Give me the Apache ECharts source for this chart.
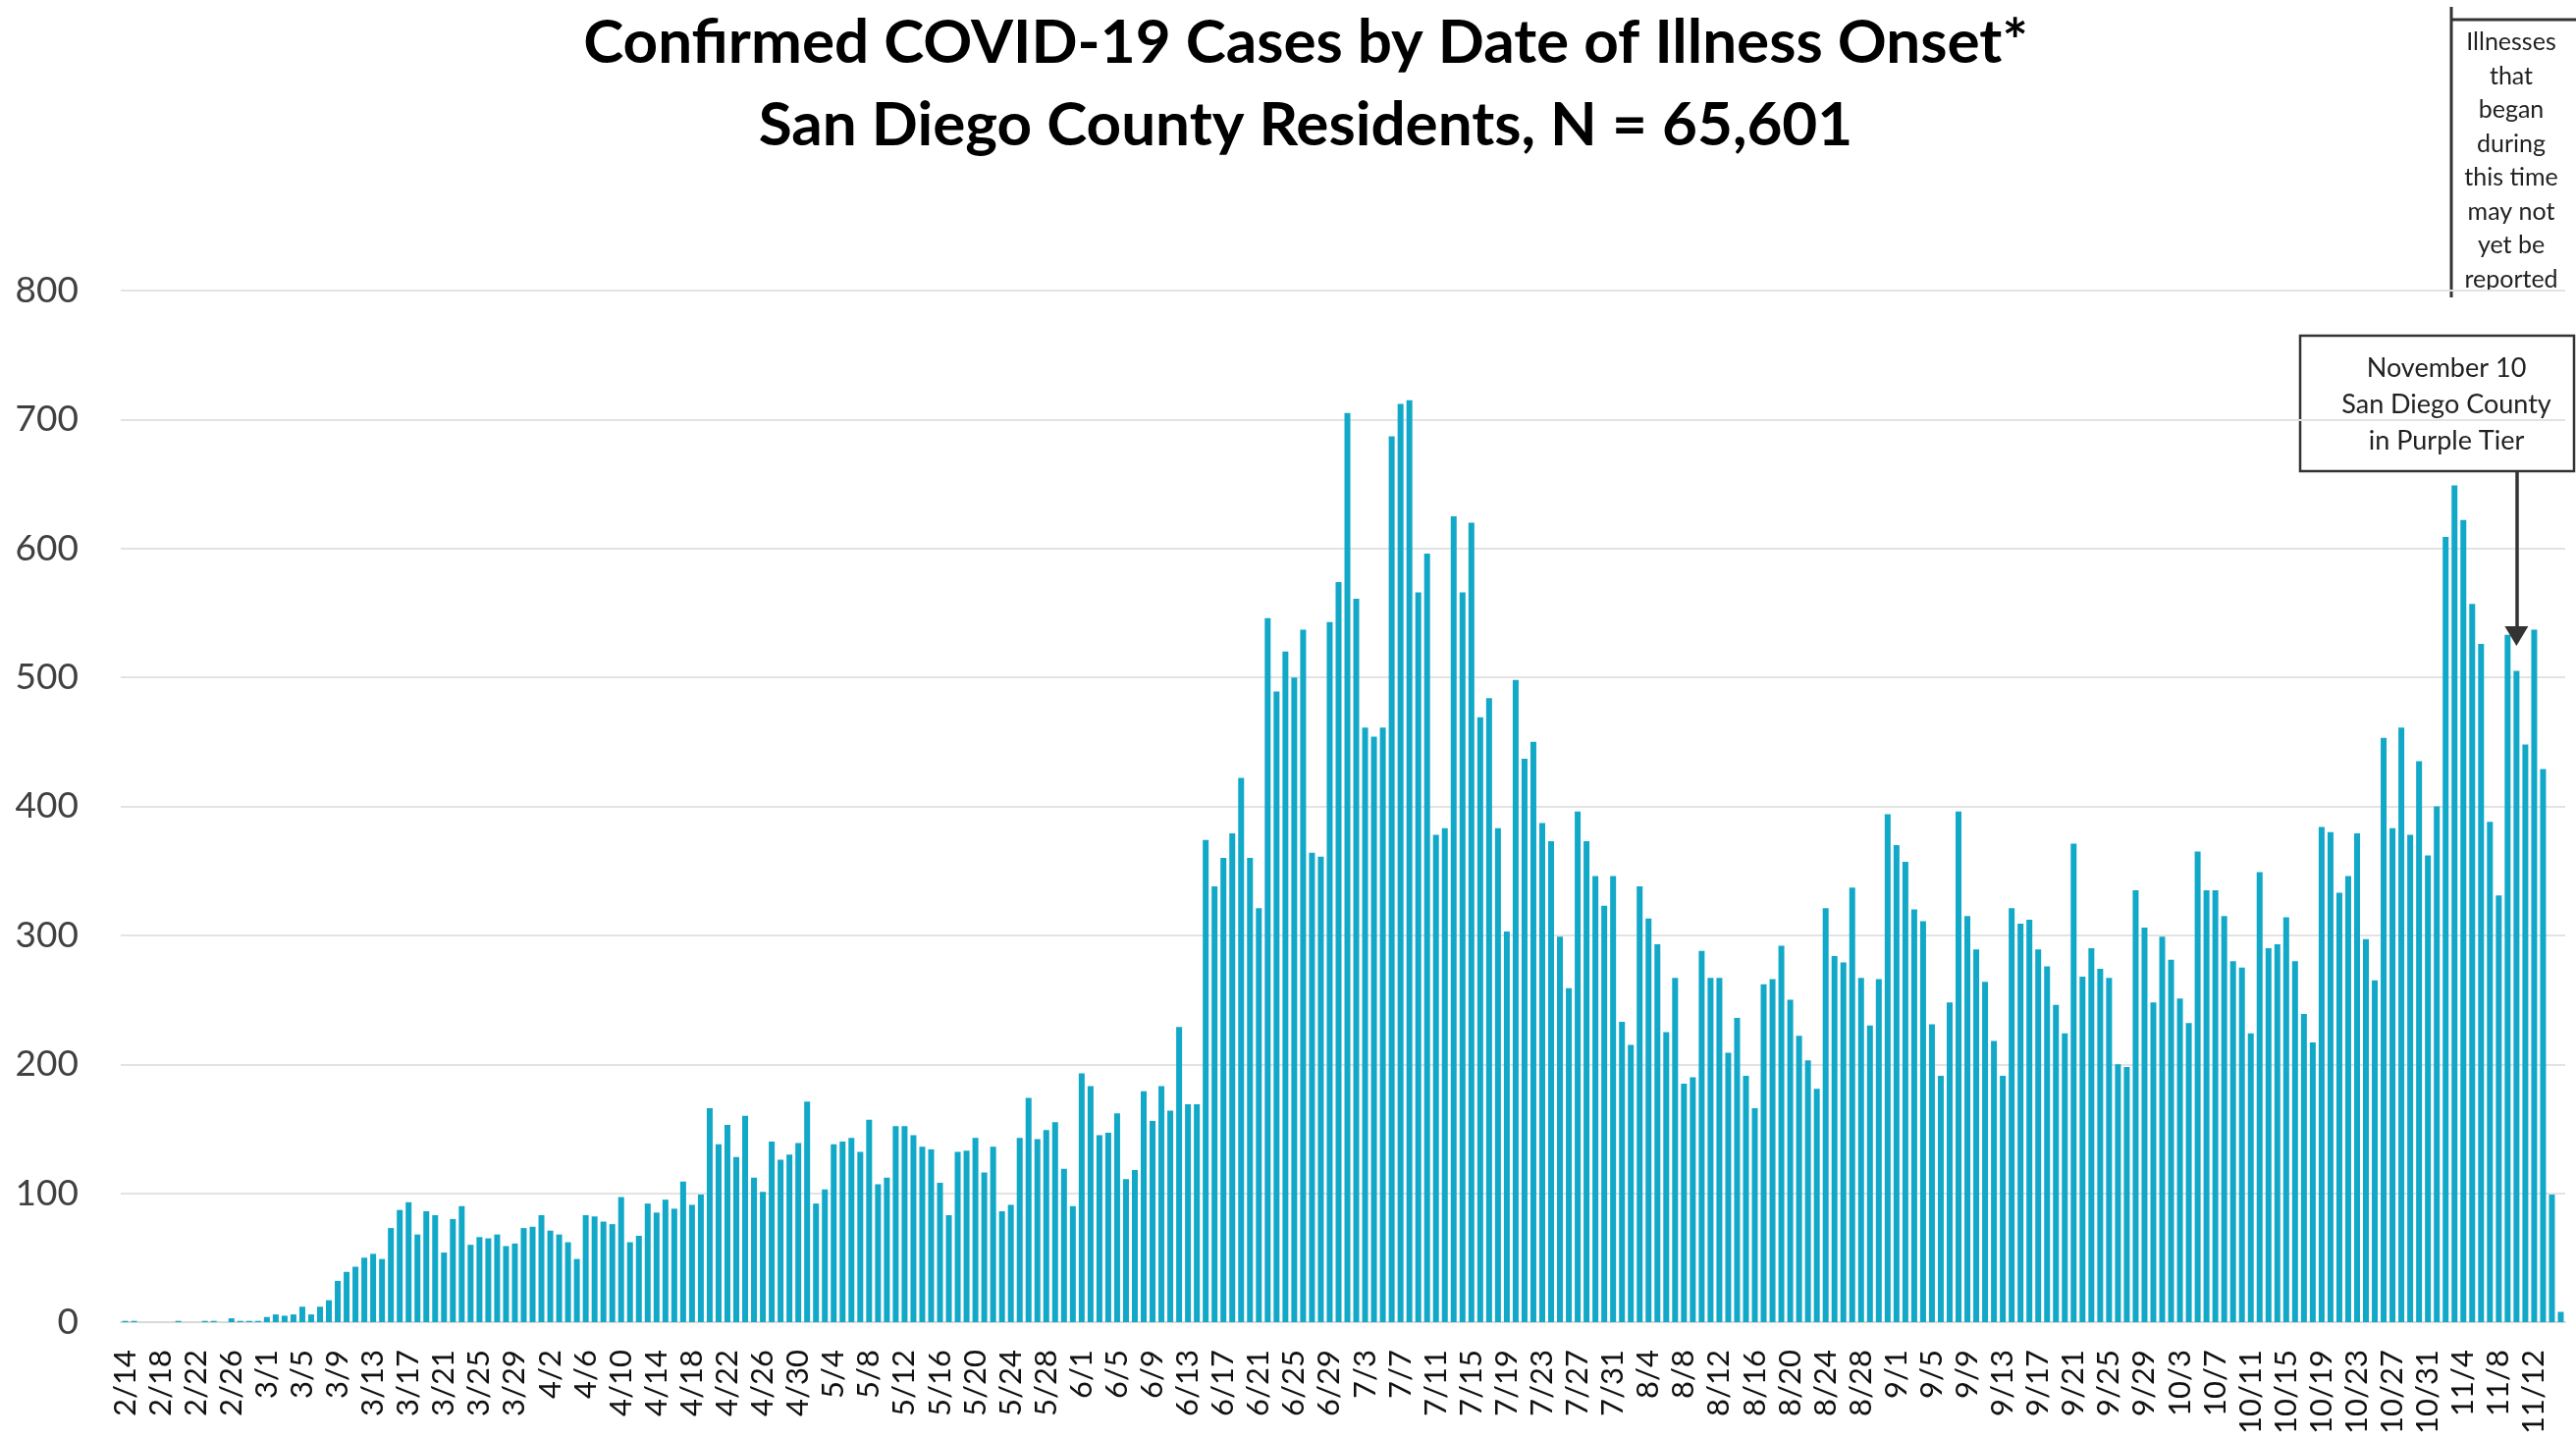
<!DOCTYPE html>
<html>
<head>
<meta charset="utf-8">
<script src="https://cdn.jsdelivr.net/npm/echarts@6/dist/echarts.min.js"></script>
<style>
  html, body { margin: 0; padding: 0; background: #fff; }
  #container { width: 2624px; height: 1465px; }
</style>
</head>
<body>
<div id="container"></div>
<script>
// dates 2/14 .. 11/15 (2020), one bar per day
var dayCount = 276;
var days = [];
for (var i = 0; i < dayCount; i++) {
    var d = new Date(2020, 1, 14 + i);
    days.push((d.getMonth() + 1) + '/' + d.getDate());
}

// daily confirmed cases by onset date
var cases = [
    1, 1, 0, 0, 0, 0, 1, 0, 0, 1,
    1, 0, 3, 1, 1, 1, 4, 6, 5, 6,
    12, 6, 12, 17, 32, 39, 43, 50, 53, 49,
    73, 87, 93, 68, 86, 83, 54, 80, 90, 60,
    66, 65, 68, 59, 61, 73, 74, 83, 71, 68,
    62, 49, 83, 82, 78, 76, 97, 62, 67, 92,
    85, 95, 88, 109, 91, 99, 166, 138, 153, 128,
    160, 112, 101, 140, 126, 130, 139, 171, 92, 103,
    138, 140, 143, 132, 157, 107, 112, 152, 152, 145,
    136, 134, 108, 83, 132, 133, 143, 116, 136, 86,
    91, 143, 174, 142, 149, 155, 119, 90, 193, 183,
    145, 147, 162, 111, 118, 179, 156, 183, 164, 229,
    169, 169, 374, 338, 360, 379, 422, 360, 321, 546,
    489, 520, 500, 537, 364, 361, 543, 574, 705, 561,
    461, 454, 461, 687, 712, 715, 566, 596, 378, 383,
    625, 566, 620, 469, 484, 383, 303, 498, 437, 450,
    387, 373, 299, 259, 396, 373, 346, 323, 346, 233,
    215, 338, 313, 293, 225, 267, 185, 190, 288, 267,
    267, 209, 236, 191, 166, 262, 266, 292, 250, 222,
    203, 181, 321, 284, 279, 337, 267, 230, 266, 394,
    370, 357, 320, 311, 231, 191, 248, 396, 315, 289,
    264, 218, 191, 321, 309, 312, 289, 276, 246, 224,
    371, 268, 290, 274, 267, 200, 198, 335, 306, 248,
    299, 281, 251, 232, 365, 335, 335, 315, 280, 275,
    224, 349, 290, 293, 314, 280, 239, 217, 384, 380,
    333, 346, 379, 297, 265, 453, 383, 461, 378, 435,
    362, 400, 609, 649, 622, 557, 526, 388, 331, 533,
    505, 448, 537, 429, 99, 8
];

var yTicks = [0, 100, 200, 300, 400, 500, 600, 700, 800];

var titleLines = [
    'Confirmed COVID-19 Cases by Date of Illness Onset*',
    'San Diego County Residents, N = 65,601'
];
var lagNote = ['Illnesses', 'that', 'began', 'during', 'this time', 'may not', 'yet be', 'reported'];
var tierNote = ['November 10', 'San Diego County', 'in Purple Tier'];
var tierDay = '11/10';

var dom = document.getElementById('container');
var myChart = echarts.init(dom, null, { renderer: 'canvas' });

var option = {
    animation: false,
    backgroundColor: '#fff',
    title: {
        text: titleLines.join('\n'),
        left: 1330,
        top: 2,
        padding: 0,
        textAlign: 'center',
        textStyle: {
            fontFamily: 'Lato',
            fontWeight: 'bold',
            fontSize: 62,
            lineHeight: 84,
            color: '#000'
        }
    },
    grid: {
        left: 123,
        right: 11,
        top: 296,
        bottom: 118,
        containLabel: false
    },
    xAxis: {
        type: 'category',
        data: days,
        axisLine: { lineStyle: { color: '#d9d9d9', width: 2 } },
        axisTick: { show: false },
        axisLabel: {
            interval: 3,
            rotate: 90,
            margin: 28,
            fontFamily: 'Lato',
            fontSize: 31,
            color: '#111'
        }
    },
    yAxis: {
        type: 'value',
        min: yTicks[0],
        max: yTicks[yTicks.length - 1],
        interval: 100,
        axisLine: { show: false },
        axisTick: { show: false },
        axisLabel: {
            margin: 43,
            fontFamily: 'Lato',
            fontSize: 37,
            color: '#404040'
        },
        splitLine: { lineStyle: { color: '#e3e3e3', width: 2 } }
    },
    series: [
        {
            type: 'bar',
            data: cases,
            barWidth: 6,
            itemStyle: { color: '#12a8c8' },
            markLine: {
                silent: true,
                symbol: ['none', 'triangle'],
                symbolSize: [24, 20],
                label: { show: false },
                lineStyle: { color: '#333', width: 3.5, type: 'solid' },
                data: [
                    [
                        { coord: [tierDay, 660] },
                        { coord: [tierDay, 532] }
                    ]
                ]
            }
        }
    ],
    graphic: [
        {
            type: 'line',
            shape: { x1: 2497, y1: 7, x2: 2497, y2: 303 },
            style: { stroke: '#333', lineWidth: 3 }
        },
        {
            type: 'line',
            shape: { x1: 2497, y1: 20, x2: 2624, y2: 20 },
            style: { stroke: '#333', lineWidth: 3 }
        },
        {
            type: 'text',
            x: 2558,
            y: 26,
            style: {
                text: lagNote.join('\n'),
                fontFamily: 'Lato',
                fontSize: 25,
                lineHeight: 34.5,
                fill: '#222',
                align: 'center',
                verticalAlign: 'top'
            }
        },
        {
            type: 'rect',
            shape: { x: 2343, y: 342, width: 279, height: 138 },
            style: { fill: '#fff', stroke: '#333', lineWidth: 2.5 }
        },
        {
            type: 'text',
            x: 2492,
            y: 357,
            style: {
                text: tierNote.join('\n'),
                fontFamily: 'Lato',
                fontSize: 27,
                lineHeight: 37,
                fill: '#222',
                align: 'center',
                verticalAlign: 'top'
            }
        }
    ]
};

if (option && typeof option === 'object') {
    myChart.setOption(option);
}

window.addEventListener('resize', myChart.resize);
</script>
</body>
</html>
